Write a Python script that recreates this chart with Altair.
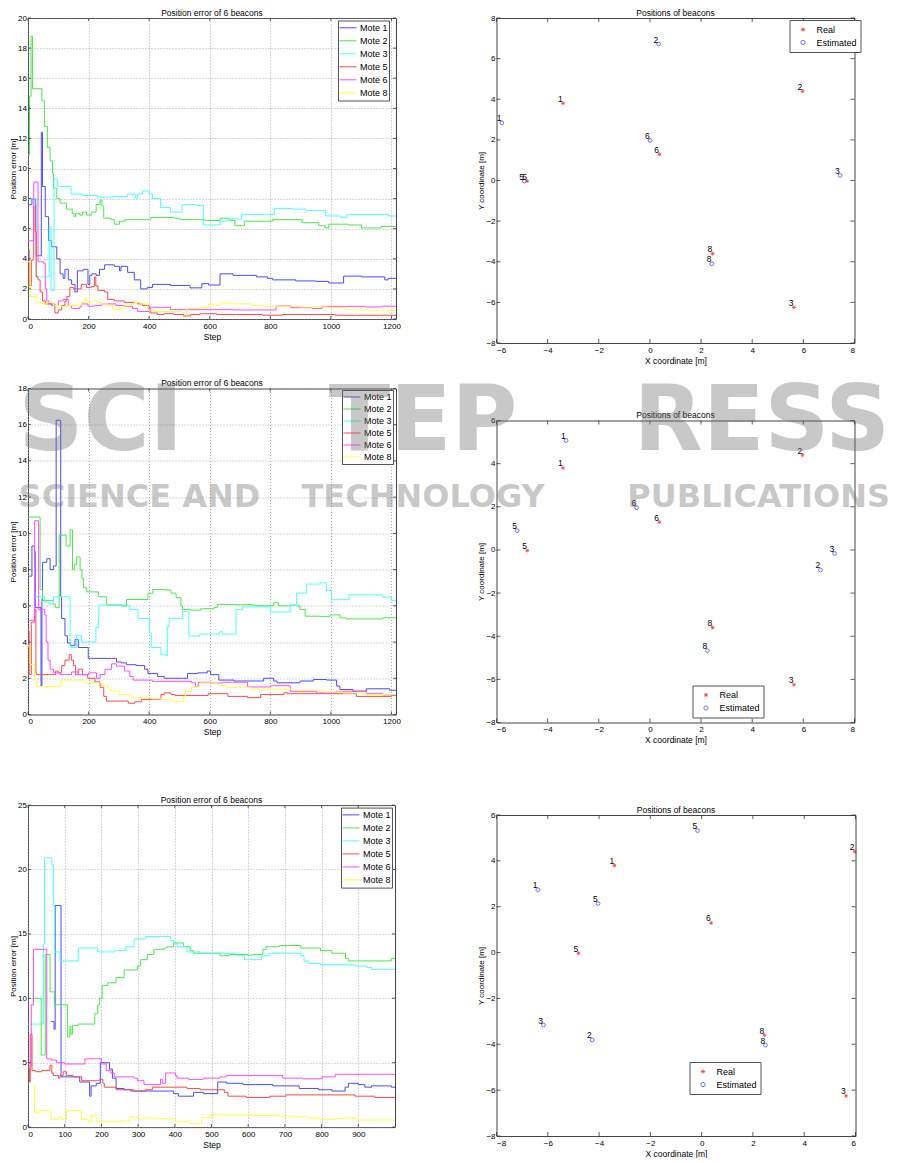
import altair as alt
import pandas as pd

FONT = "Liberation Sans"
MOTES = ["Mote 1", "Mote 2", "Mote 3", "Mote 5", "Mote 6", "Mote 8"]
MOTE_COLORS = ["#4b4bff", "#4be84b", "#4bffff", "#ff4b4b", "#ff4bff", "#ffff3c"]

# ---------------- panel 1 (top-left): (step, error) breakpoints -------------
P1_M1 = [(0,7.6),(13,8.0),(24,7.6),(26,5.8),(27,4.2),(44,12.4),(48,8.8),(57,6.8),(68,5.2),(78,4.8),(95,4.0),(106,3.0),(116,2.7),(122,3.3),(133,2.6),(144,2.3),(155,1.8),(163,3.2),(182,3.3),(198,2.3),(204,2.9),(211,3.0),(225,2.9),(236,3.3),(253,3.6),(285,3.5),(302,3.2),(307,3.5),(329,3.1),(351,2.6),(372,2.0),(394,2.1),(411,2.3),(470,2.23),(535,2.07),(574,2.35),(596,2.26),(634,3.0),(677,2.9),(754,2.8),(791,2.7),(808,2.6),(884,2.53),(950,2.5),(993,2.39),(1042,2.85),(1101,2.8),(1178,2.6),(1189,2.7),(1215,2.7)]
P1_M2 = [(0,10.9),(5,14.8),(10,18.8),(15,15.3),(46,14.5),(54,12.8),(64,11.4),(73,10.5),(81,9.7),(84,8.7),(95,8.0),(106,7.7),(127,7.3),(146,7.0),(152,6.8),(157,7.0),(171,6.9),(180,7.1),(193,6.9),(209,7.1),(225,7.6),(238,7.9),(244,7.5),(250,6.7),(274,6.6),(285,6.3),(302,6.5),(320,6.6),(405,6.75),(481,6.7),(503,6.6),(585,6.55),(634,6.7),(666,6.55),(683,6.2),(715,6.5),(808,6.6),(873,6.6),(905,6.4),(960,6.2),(980,6.05),(993,6.3),(1058,6.25),(1101,6.05),(1166,6.15),(1215,6.1)]
P1_M3 = [(0,8.0),(27,2.8),(70,6.1),(76,1.9),(86,9.3),(98,8.8),(142,8.3),(182,8.2),(231,8.1),(285,8.15),(329,8.3),(356,8.0),(362,8.3),(378,8.5),(400,8.3),(411,8.0),(438,7.4),(470,7.1),(509,7.6),(558,7.55),(579,6.25),(634,6.5),(660,6.65),(705,6.95),(791,6.95),(813,7.35),(873,7.3),(917,7.2),(982,6.85),(1031,6.75),(1053,6.95),(1190,6.85),(1215,6.8)]
P1_M5 = [(0,4.6),(4,2.2),(11,3.9),(16,4.0),(19,7.5),(24,5.8),(27,2.8),(33,2.6),(40,1.8),(48,1.2),(57,1.0),(78,0.9),(89,0.4),(100,0.6),(111,0.9),(122,1.2),(128,1.5),(138,2.1),(150,2.0),(176,2.3),(193,2.1),(209,2.15),(220,2.8),(224,2.2),(231,1.9),(253,1.8),(263,1.3),(285,1.2),(318,1.1),(362,1.0),(378,0.9),(400,0.7),(405,0.4),(427,0.3),(449,0.35),(481,0.3),(514,0.2),(536,0.3),(568,0.35),(623,0.3),(775,0.25),(840,0.3),(1015,0.25),(1215,0.25)]
P1_M6 = [(0,5.2),(19,9.1),(33,3.8),(51,3.7),(57,2.0),(62,1.2),(68,1.0),(89,0.9),(100,1.2),(116,1.3),(133,0.9),(144,0.7),(171,0.8),(176,1.0),(198,0.85),(220,0.9),(242,1.0),(291,0.9),(318,0.85),(345,0.7),(362,0.5),(400,0.78),(470,0.62),(677,0.6),(786,0.6),(819,0.87),(868,0.75),(939,0.7),(971,0.84),(1113,0.8),(1170,0.85),(1215,0.85)]
P1_M8 = [(0,3.8),(7,1.5),(29,1.1),(46,1.0),(62,1.1),(84,0.9),(100,0.85),(116,0.8),(133,0.9),(176,1.1),(189,1.4),(195,1.1),(209,1.2),(231,1.1),(242,1.0),(263,0.9),(280,0.6),(302,0.7),(318,0.9),(335,1.0),(351,1.1),(372,1.0),(394,0.6),(416,0.5),(481,0.5),(509,0.4),(525,0.7),(568,0.8),(596,1.0),(612,0.9),(634,1.05),(677,1.0),(743,0.9),(775,0.85),(895,0.8),(993,0.75),(1048,0.65),(1091,0.6),(1135,0.55),(1215,0.55)]

# ---------------- panel 3 (middle-left) -------------------------------------
P3_M1 = [(4,7.64),(13,9.3),(21,9.0),(24,5.9),(43,1.56),(46,6.4),(48,8.4),(62,8.6),(73,8.0),(84,8.2),(93,16.25),(108,6.5),(111,5.3),(122,4.35),(130,3.95),(140,3.8),(155,4.14),(166,3.7),(199,3.1),(276,3.1),(292,2.9),(308,2.85),(325,2.75),(357,2.7),(385,2.5),(396,2.26),(428,2.1),(450,2.0),(510,2.0),(527,2.26),(560,2.3),(592,2.4),(603,2.2),(630,1.9),(680,1.85),(778,2.0),(811,1.85),(822,1.75),(898,1.85),(942,1.93),(986,1.9),(1019,1.57),(1030,1.38),(1073,1.29),(1117,1.42),(1194,1.34),(1215,1.34)]
P3_M2 = [(0,10.9),(40,6.9),(48,6.3),(84,6.1),(90,5.9),(103,9.9),(126,9.3),(139,10.2),(147,8.0),(153,8.3),(161,8.7),(172,8.0),(178,7.5),(183,7.0),(194,6.77),(232,6.5),(260,6.05),(309,5.98),(325,6.35),(396,6.7),(412,6.9),(456,6.87),(472,6.7),(489,6.45),(505,6.0),(510,5.8),(538,5.76),(570,5.84),(614,5.9),(625,6.08),(680,6.06),(745,6.0),(811,6.17),(827,6.0),(866,6.04),(887,6.0),(898,5.8),(915,5.43),(964,5.4),(997,5.5),(1030,5.34),(1051,5.28),(1172,5.34),(1215,5.35)]
P3_M3 = [(24,6.5),(55,6.2),(70,6.1),(84,6.5),(139,3.7),(161,4.37),(177,4.0),(221,4.0),(224,4.8),(232,5.3),(234,6.04),(330,6.0),(335,5.8),(363,5.3),(401,4.5),(407,3.7),(439,3.3),(457,3.23),(460,4.84),(466,5.3),(510,5.7),(531,4.33),(567,4.44),(633,4.57),(643,4.44),(687,5.79),(709,5.94),(801,5.66),(866,6.03),(887,6.7),(920,7.2),(964,7.27),(986,6.85),(1002,6.34),(1060,6.61),(1171,6.48),(1200,6.3),(1215,6.3)]
P3_M5 = [(0,4.6),(4,2.2),(11,5.1),(22,5.8),(26,2.3),(29,2.2),(91,2.4),(100,2.3),(111,2.7),(122,3.0),(136,3.3),(144,3.0),(150,2.7),(157,2.2),(166,2.5),(180,2.2),(197,2.0),(221,1.8),(238,1.5),(250,1.0),(259,0.74),(331,0.62),(352,0.7),(374,0.83),(439,1.1),(450,1.2),(472,1.1),(486,1.05),(595,1.15),(660,1.0),(725,0.93),(768,1.1),(845,1.2),(856,1.15),(1062,1.15),(1084,1.0),(1200,1.05),(1215,1.05)]
P3_M6 = [(0,5.2),(22,10.7),(35,5.8),(55,5.5),(60,4.0),(66,3.0),(73,2.5),(84,2.3),(106,2.2),(144,2.35),(166,2.2),(200,2.3),(226,2.0),(238,2.2),(254,2.5),(276,2.8),(292,2.67),(319,2.4),(336,2.1),(347,1.9),(410,1.83),(540,1.75),(553,1.55),(562,1.78),(600,1.74),(643,1.78),(725,1.52),(801,1.59),(866,1.28),(953,1.19),(1018,1.28),(1116,1.15),(1171,1.08),(1215,1.08)]
P3_M8 = [(0,3.8),(7,2.76),(22,1.93),(29,1.55),(108,1.9),(187,1.75),(243,1.6),(265,1.4),(275,1.3),(303,1.1),(341,0.92),(410,0.86),(443,0.82),(476,0.71),(513,1.0),(520,1.28),(540,1.52),(567,1.74),(627,1.6),(654,1.5),(736,1.4),(887,1.33),(975,1.24),(1040,1.19),(1116,1.1),(1215,1.1)]

# ---------------- panel 5 (bottom-left) -------------------------------------
P5_M1 = [(63,8.2),(71,7.6),(74,17.2),(90,3.9),(141,3.5),(168,2.4),(172,3.2),(186,3.4),(197,5.0),(222,4.5),(230,3.8),(240,3.0),(262,2.9),(280,2.8),(397,2.6),(410,2.4),(451,2.7),(478,2.6),(517,3.5),(541,3.4),(586,3.3),(667,3.2),(739,3.0),(792,2.9),(828,2.8),(864,3.1),(873,3.4),(900,3.3),(918,3.1),(936,3.2),(990,3.1),(1000,3.1)]
P5_M2 = [(15,10.0),(36,5.6),(47,13.4),(60,10.5),(72,9.5),(108,7.0),(114,7.8),(117,7.2),(121,7.9),(137,8.0),(182,8.8),(190,9.5),(195,10.0),(202,11.0),(217,11.2),(240,11.6),(262,12.2),(298,12.5),(307,13.0),(325,13.4),(343,13.8),(370,13.9),(379,14.0),(397,14.3),(424,14.0),(442,13.7),(451,13.5),(523,13.3),(550,13.4),(599,13.35),(613,13.4),(640,13.8),(649,14.0),(685,14.1),(743,13.9),(797,13.7),(828,13.5),(865,13.1),(873,12.9),(990,13.1),(1000,13.1)]
P5_M3 = [(0,8.0),(42,14.2),(45,20.9),(65,20.4),(69,17.2),(72,13.6),(87,12.9),(137,13.9),(190,13.6),(235,13.7),(267,14.0),(289,14.6),(321,14.8),(388,14.5),(397,14.3),(406,14.0),(433,13.6),(469,13.5),(568,13.3),(590,13.0),(636,13.3),(658,13.5),(743,13.3),(752,12.9),(765,12.7),(797,12.6),(891,12.5),(923,12.4),(936,12.25),(1000,12.25)]
P5_M5 = [(0,4.6),(4,3.5),(6,7.2),(11,4.4),(20,4.3),(38,4.4),(60,4.8),(65,4.2),(69,4.0),(83,3.8),(87,4.0),(96,4.3),(105,4.0),(123,3.9),(146,3.6),(195,3.7),(204,3.4),(208,3.1),(240,2.9),(289,2.8),(320,2.9),(339,3.1),(433,3.0),(469,2.9),(535,2.7),(545,2.4),(595,2.3),(658,2.4),(703,2.5),(891,2.4),(945,2.3),(1000,2.3)]
P5_M6 = [(0,4.7),(9,9.5),(15,13.8),(51,5.3),(65,5.2),(78,5.0),(101,4.9),(155,5.3),(200,4.9),(213,4.4),(226,4.2),(235,3.9),(289,3.8),(298,3.6),(316,3.3),(361,3.7),(366,3.4),(375,4.2),(402,4.0),(406,3.8),(438,3.7),(478,3.8),(523,3.9),(541,4.0),(694,3.8),(748,3.75),(801,3.9),(837,4.1),(1000,4.1)]
P5_M8 = [(15,3.3),(18,1.1),(29,1.3),(63,0.6),(83,0.8),(92,0.6),(105,1.3),(146,0.6),(164,0.4),(173,0.9),(186,0.4),(253,0.5),(276,0.8),(298,0.6),(311,0.7),(352,0.65),(402,0.4),(440,0.3),(447,0.25),(474,0.75),(500,1.0),(532,0.95),(613,0.9),(685,0.85),(730,0.8),(765,0.7),(792,0.6),(837,0.65),(865,0.7),(900,0.55),(1000,0.55)]

# ---------------- beacon positions ------------------------------------------
REAL_LABELS = ["1", "2", "6", "5", "8", "3"]
REAL_X = [-3.40, 5.97, 0.37, -4.80, 2.45, 5.63]
REAL_Y = [3.80, 4.40, 1.29, -0.03, -3.60, -6.25]

P2_EST_LABELS = ["2", "1", "6", "5", "3", "8"]
P2_EST_X = [0.34, -5.79, 0.01, -4.91, 7.44, 2.42]
P2_EST_Y = [6.72, 2.84, 1.97, -0.03, 0.25, -4.10]

P4_EST_LABELS = ["1", "6", "5", "3", "2", "8"]
P4_EST_X = [-3.28, -0.52, -5.19, 7.22, 6.67, 2.25]
P4_EST_Y = [5.07, 1.96, 0.89, -0.16, -0.93, -4.67]

P6_EST_LABELS = ["5", "1", "5", "3", "2", "8"]
P6_EST_X = [-0.16, -6.39, -4.04, -6.17, -4.27, 2.49]
P6_EST_Y = [5.32, 2.74, 2.14, -3.16, -3.81, -4.04]

# tick values
X_TICKS_1200 = [0, 200, 400, 600, 800, 1000, 1200]
X_TICKS_900 = [0, 100, 200, 300, 400, 500, 600, 700, 800, 900]
Y_TICKS_20 = [0, 2, 4, 6, 8, 10, 12, 14, 16, 18, 20]
Y_TICKS_18 = [0, 2, 4, 6, 8, 10, 12, 14, 16, 18]
Y_TICKS_25 = [0, 5, 10, 15, 20, 25]
POS_TICKS_A = [-6, -4, -2, 0, 2, 4, 6, 8]
POS_TICKS_B = [-8, -6, -4, -2, 0, 2, 4, 6, 8]
POS_TICKS_C = [-8, -6, -4, -2, 0, 2, 4, 6]

# publisher watermark text
WM_BIG = "SCITEPRESS"
WM_SMALL = "SCIENCE AND TECHNOLOGY PUBLICATIONS"

ASTERISK = "M-1,0L1,0M0,-1L0,1M-0.7,-0.7L0.7,0.7M-0.7,0.7L0.7,-0.7"


def inward_ticks(xt, yt, xsc, ysc, xax, yax, w, h, L):
    dxt = pd.DataFrame({"tx": xt})
    dyt = pd.DataFrame({"ty": yt})
    bx = alt.Chart(dxt).mark_rule(color="#333333", strokeWidth=0.8)
    by = alt.Chart(dyt).mark_rule(color="#333333", strokeWidth=0.8)
    X = alt.X("tx:Q", scale=xsc, axis=xax)
    Y = alt.Y("ty:Q", scale=ysc, axis=yax)
    return [
        bx.encode(x=X, y=alt.value(h), y2=alt.value(h - L)),
        bx.encode(x=X, y=alt.value(0), y2=alt.value(L)),
        by.encode(y=Y, x=alt.value(0), x2=alt.value(L)),
        by.encode(y=Y, x=alt.value(w), x2=alt.value(w - L)),
    ]


def error_panel(series, xmax, ymax, xt, yt, w, h, lx, ly, row_h, title_off):
    rows = []
    for name, pts in zip(MOTES, series):
        for s, v in pts:
            rows.append({"step": s, "err": v, "mote": name})
    df = pd.DataFrame(rows)
    xsc = alt.Scale(domain=[0, xmax], nice=False, zero=False)
    ysc = alt.Scale(domain=[0, ymax], nice=False, zero=False)
    xax = alt.Axis(values=xt, format="d", title="Step", grid=True)
    yax = alt.Axis(values=yt, format="d", title="Position error [m]", grid=True)
    lines = alt.Chart(df).mark_line(interpolate="step-after", strokeWidth=1, clip=True).encode(
        x=alt.X("step:Q", scale=xsc, axis=xax),
        y=alt.Y("err:Q", scale=ysc, axis=yax),
        color=alt.Color("mote:N", scale=alt.Scale(domain=MOTES, range=MOTE_COLORS),
                        legend=alt.Legend(title=None, orient="none", legendX=lx, legendY=ly,
                                          clipHeight=row_h, symbolType="stroke", symbolSize=289,
                                          symbolStrokeWidth=1, padding=1, labelOffset=3,
                                          rowPadding=0, fillColor="white", strokeColor="#555555")),
    )
    layers = [lines] + inward_ticks(xt, yt, xsc, ysc, xax, yax, w, h, 3)
    return alt.layer(*layers).properties(
        width=w, height=h,
        title=alt.TitleParams("Position error of 6 beacons", offset=title_off))


def position_panel(est_labels, est_x, est_y, xdom, ydom, xt, yt, w, h, lx, ly, title_off):
    rows = []
    for lab, x, y in zip(REAL_LABELS, REAL_X, REAL_Y):
        rows.append({"x": x, "y": y, "lab": lab, "kind": "Real"})
    for lab, x, y in zip(est_labels, est_x, est_y):
        rows.append({"x": x, "y": y, "lab": lab, "kind": "Estimated"})
    df = pd.DataFrame(rows)
    xsc = alt.Scale(domain=xdom, nice=False, zero=False)
    ysc = alt.Scale(domain=ydom, nice=False, zero=False)
    xax = alt.Axis(values=xt, format="d", title="X coordinate [m]", grid=False)
    yax = alt.Axis(values=yt, format="d", title="Y coordinate [m]", grid=False)
    leg = alt.Legend(title=None, orient="none", legendX=lx, legendY=ly, symbolSize=18,
                     symbolStrokeWidth=0.9, padding=3, labelOffset=9, clipHeight=13,
                     rowPadding=0, symbolOffset=6, fillColor="white", strokeColor="#555555")
    X = alt.X("x:Q", scale=xsc, axis=xax)
    Y = alt.Y("y:Q", scale=ysc, axis=yax)
    pts = alt.Chart(df).mark_point(filled=False, strokeWidth=0.9).encode(
        x=X, y=Y,
        color=alt.Color("kind:N", scale=alt.Scale(domain=["Real", "Estimated"], range=["#ff0000", "#2020ff"]), legend=leg),
        shape=alt.Shape("kind:N", scale=alt.Scale(domain=["Real", "Estimated"], range=[ASTERISK, "circle"]), legend=leg),
        size=alt.value(14),
    )
    labels = alt.Chart(df).mark_text(align="center", baseline="alphabetic", dx=-2.7, dy=-1.5,
                                     fontSize=8.5, font=FONT, color="black").encode(
        x=X, y=Y, text="lab:N")
    layers = [pts, labels] + inward_ticks(xt, yt, xsc, ysc, xax, yax, w, h, 4)
    return alt.layer(*layers).properties(
        width=w, height=h,
        title=alt.TitleParams("Positions of beacons", offset=title_off))


def indep(c):
    return c.resolve_scale(color="independent", shape="independent").resolve_legend(
        color="independent", shape="independent")


WM_COLOR = "rgba(110,110,110,0.38)"


def wm_title(big, small, anchor, dx):
    return alt.TitleParams(
        text=big, subtitle=small, orient="top", anchor=anchor, offset=0,
        font="DejaVu Sans", fontWeight="bold", fontSize=90, color=WM_COLOR,
        subtitleFont="DejaVu Sans", subtitleFontWeight="bold", subtitleFontSize=32,
        subtitleColor=WM_COLOR, subtitlePadding=13, dx=dx, dy=506)


TOFF = -3
p1 = error_panel([P1_M1, P1_M2, P1_M3, P1_M5, P1_M6, P1_M8], 1215, 20, X_TICKS_1200, Y_TICKS_20,
                 368, 301, 310, 2.5, 12.6, TOFF)
p3 = error_panel([P3_M1, P3_M2, P3_M3, P3_M5, P3_M6, P3_M8], 1215, 18, X_TICKS_1200, Y_TICKS_18,
                 368, 326, 314, 1.5, 12.0, TOFF)
p5 = error_panel([P5_M1, P5_M2, P5_M3, P5_M5, P5_M6, P5_M8], 1000, 25, X_TICKS_900, Y_TICKS_25,
                 367, 322, 313, 2.5, 12.6, TOFF)

p2 = position_panel(P2_EST_LABELS, P2_EST_X, P2_EST_Y, [-6, 8], [-8, 8], POS_TICKS_A, POS_TICKS_B,
                    358, 325, 293, 2, TOFF)
p4 = position_panel(P4_EST_LABELS, P4_EST_X, P4_EST_Y, [-6, 8], [-8, 6], POS_TICKS_A, POS_TICKS_C,
                    358, 302, 196, 265, TOFF)
p6 = position_panel(P6_EST_LABELS, P6_EST_X, P6_EST_Y, [-8, 6], [-8, 6], POS_TICKS_C, POS_TICKS_C,
                    359, 321, 193, 247, TOFF)

left = indep(alt.vconcat(indep(alt.vconcat(p1, p3, spacing=37.5)), p5, spacing=58.1))
right = indep(alt.vconcat(indep(alt.vconcat(p2, p4, spacing=45.5)), p6, spacing=60))

words = WM_SMALL.split(" ")
main = indep(alt.hconcat(left, right, spacing=75.5)).properties(
    title=wm_title(WM_BIG[:3], " ".join(words[:2]), "start", 10))
mid = indep(alt.vconcat(main)).properties(
    title=wm_title(WM_BIG[3:6], words[2], "middle", -12))

chart = indep(alt.vconcat(mid)).properties(
    padding=0, background="white",
    title=wm_title(WM_BIG[6:], words[3], "end", 28.5),
).configure_view(
    stroke="#444444", strokeWidth=1
).configure_axis(
    labelFont=FONT, labelFontSize=8, labelColor="black",
    titleFont=FONT, titleFontSize=8.5, titleFontWeight="normal", titleColor="black",
    domain=False, ticks=False,
    gridColor="#9a9a9a", gridDash=[1, 2], gridWidth=0.8,
).configure_axisX(
    labelPadding=3, titlePadding=2,
).configure_axisY(
    labelPadding=1.5, titlePadding=0.5, titleFontSize=8,
).configure_title(
    font=FONT, fontSize=8.5, fontWeight="normal", color="black", anchor="middle",
).configure_legend(
    labelFont=FONT, labelFontSize=9, labelColor="black",
)

chart.save("out.html", embed_options={"renderer": "svg", "actions": False})
